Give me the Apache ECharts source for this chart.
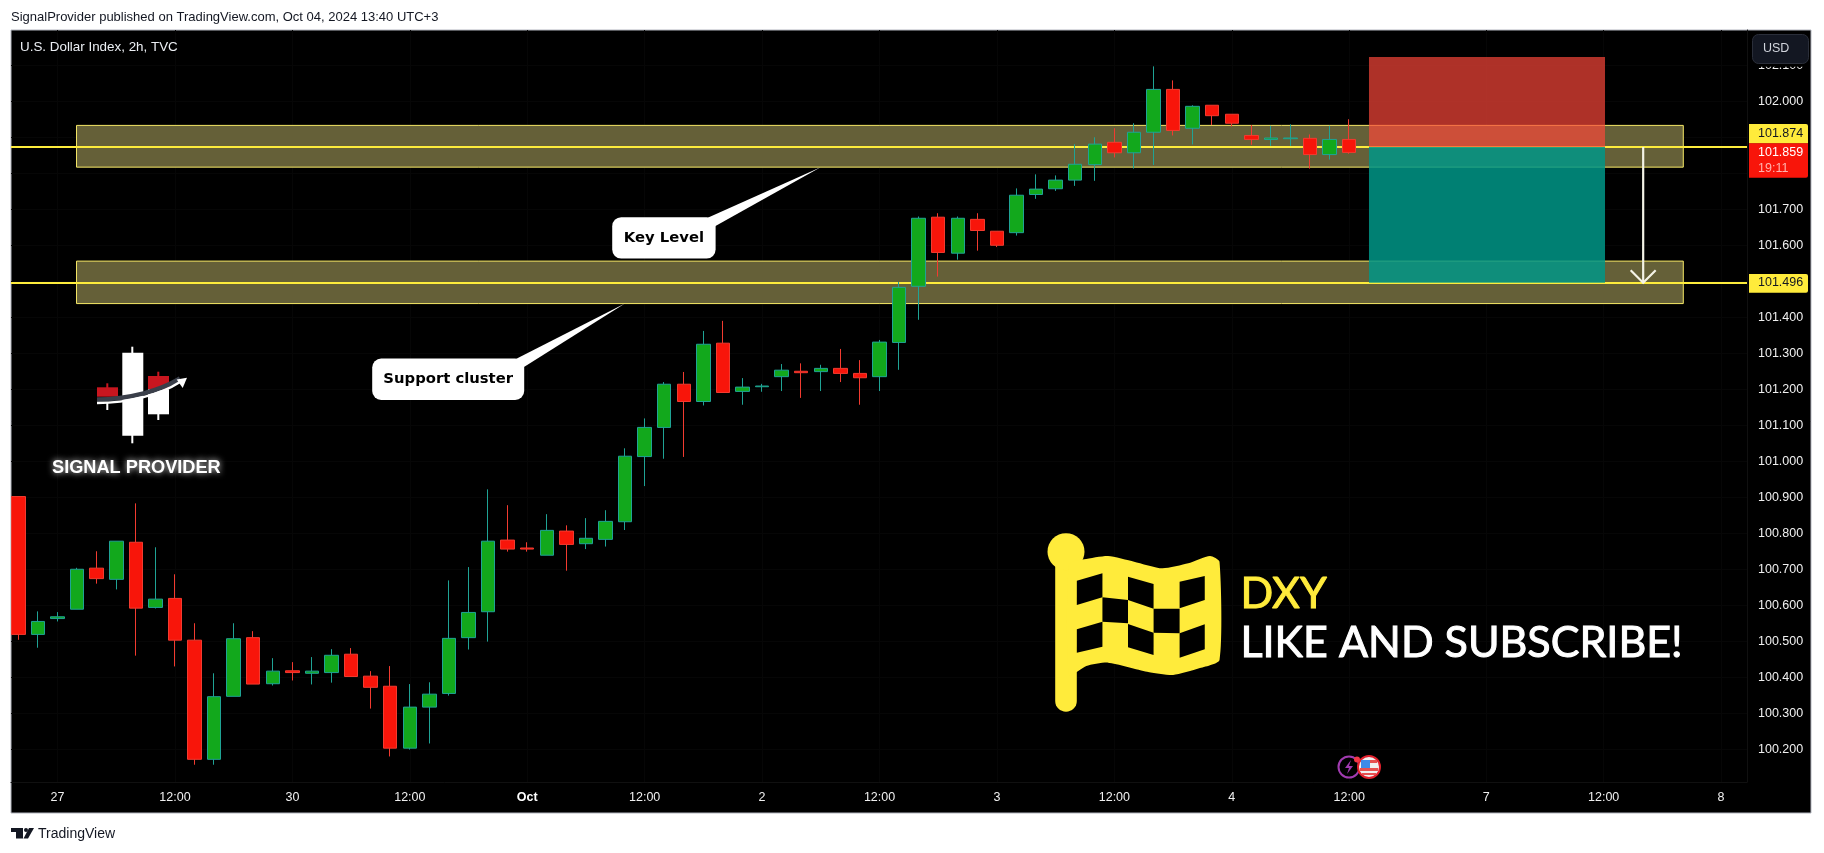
<!DOCTYPE html>
<html>
<head>
<meta charset="utf-8">
<title>DXY 2h</title>
<script src="https://cdn.jsdelivr.net/npm/echarts@6/dist/echarts.min.js"></script>
<style>
  html, body { margin: 0; padding: 0; background: #fff; }
  #chart { width: 1824px; height: 853px; }
</style>
</head>
<body>
<div id="chart"></div>
<script>
// candles, 2h bars, index 0 is the bar cut by the left edge
var opens = [100.903,100.520,100.564,100.590,100.704,100.673,100.776,100.595,100.620,100.504,
  100.173,100.348,100.511,100.383,100.419,100.412,100.414,100.465,100.404,100.376,
  100.204,100.318,100.356,100.511,100.583,100.782,100.760,100.740,100.807,100.772,
  100.784,100.833,101.014,101.095,101.215,101.167,101.329,101.195,101.208,101.236,
  101.251,101.250,101.259,101.245,101.236,101.331,101.487,101.679,101.579,101.673,
  101.640,101.636,101.742,101.758,101.782,101.825,101.887,101.858,101.915,102.034,
  101.926,101.990,101.965,101.906,101.895,101.897,101.898,101.853,101.895];
var closes = [100.520,100.556,100.569,100.701,100.675,100.779,100.593,100.618,100.504,100.173,
  100.347,100.508,100.382,100.418,100.414,100.418,100.462,100.403,100.373,100.204,
  100.318,100.354,100.509,100.581,100.779,100.757,100.757,100.809,100.770,100.787,
  100.834,101.015,101.095,101.215,101.167,101.326,101.192,101.207,101.210,101.254,
  101.247,101.259,101.245,101.233,101.332,101.484,101.676,101.581,101.676,101.642,
  101.601,101.740,101.757,101.782,101.826,101.882,101.858,101.915,102.034,101.920,
  101.987,101.961,101.940,101.895,101.899,101.899,101.853,101.895,101.859];
var lows = [100.505,100.483,100.556,100.590,100.661,100.645,100.461,100.592,100.431,100.158,
  100.158,100.348,100.382,100.378,100.392,100.381,100.386,100.403,100.314,100.181,
  100.200,100.217,100.350,100.478,100.500,100.750,100.750,100.740,100.697,100.757,
  100.764,100.810,100.932,101.008,101.013,101.156,101.192,101.158,101.194,101.196,
  101.177,101.196,101.221,101.158,101.196,101.255,101.394,101.514,101.561,101.586,
  101.596,101.628,101.730,101.752,101.766,101.780,101.845,101.814,101.824,101.906,
  101.881,101.935,101.931,101.880,101.877,101.877,101.814,101.839,101.855];
var highs = [100.903,100.584,100.582,100.705,100.751,100.779,100.884,100.762,100.687,100.551,
  100.412,100.551,100.529,100.454,100.443,100.457,100.479,100.482,100.418,100.432,
  100.382,100.387,100.670,100.707,100.923,100.879,100.776,100.854,100.823,100.843,
  100.865,101.037,101.120,101.221,101.249,101.363,101.391,101.232,101.216,101.271,
  101.273,101.269,101.313,101.282,101.338,101.499,101.681,101.690,101.681,101.690,
  101.640,101.759,101.798,101.795,101.882,101.901,101.926,101.940,102.098,102.059,
  101.990,101.990,101.965,101.935,101.933,101.937,101.909,101.933,101.951];

var priceTicks = [100.2,100.3,100.4,100.5,100.6,100.7,100.8,100.9,101.0,101.1,101.2,101.3,
  101.4,101.5,101.6,101.7,101.8,101.9,102.0,102.1];
var timeTickBars = [2,8,14,20,26,32,38,44,50,56,62,68,75,81,87];
var timeTickLabels = ['27','12:00','30','12:00','Oct','12:00','2','12:00','3','12:00','4','12:00','7','12:00','8'];

// drawings on the chart
var levels = [101.874, 101.496];
var bandTops = [101.934, 101.557];
var bandBottoms = [101.818, 101.439];
var bandStartBar = 2.97;
var bandEndBar = 85.07;
var positionStartBar = 69.01;
var positionEndBar = 81.07;
var stopPrice = 102.124;
var entryPrice = 101.874;
var targetPrice = 101.497;
var arrowBar = 83.02;
var calloutTexts = ['Key Level', 'Support cluster'];
var calloutBars = [40.99, 30.99];
var calloutPrices = [101.818, 101.439];
var lastPrice = '101.859';
var countdown = '19:11';

var X_MIN = -0.378, X_MAX = 88.325;
var Y_MIN = 100.110, Y_MAX = 102.199;

var candleData = opens.map(function (o, i) {
  return [i, o, closes[i], lows[i], highs[i]];
});

// box around the tail tip, px: left, right, top, bottom, tail x on top edge, tail y on right edge
var calloutBoxes = [
  [-208.4, -105, 50, 91.4, -114, 59.4],
  [-252.7, -100.7, 55, 96.3, -110, 64]
];

function renderBand(params, api) {
  var a = api.coord([bandStartBar, api.value(0)]);
  var b = api.coord([bandEndBar, api.value(1)]);
  return {
    type: 'rect',
    shape: { x: a[0], y: a[1], width: b[0] - a[0], height: b[1] - a[1] },
    style: { fill: '#656038', stroke: '#f6e866', lineWidth: 1 }
  };
}

function renderPosition(params, api) {
  var a = api.coord([positionStartBar, api.value(0)]);
  var b = api.coord([positionEndBar, api.value(1)]);
  return {
    type: 'rect',
    shape: { x: a[0], y: a[1], width: b[0] - a[0], height: b[1] - a[1] },
    style: { fill: params.dataIndex === 0 ? 'rgba(252,71,58,0.69)' : 'rgba(0,150,135,0.85)' }
  };
}

function renderArrow(params, api) {
  var a = api.coord([arrowBar, entryPrice]);
  var b = api.coord([arrowBar, targetPrice]);
  var s = { stroke: '#f4f3e6', lineWidth: 2.2, fill: null };
  return {
    type: 'group',
    children: [
      { type: 'line', shape: { x1: a[0], y1: a[1], x2: b[0], y2: b[1] }, style: s },
      { type: 'polyline', shape: { points: [[b[0] - 12.5, b[1] - 12.5], [b[0], b[1]], [b[0] + 12.5, b[1] - 12.5]] }, style: s }
    ]
  };
}

function renderCallout(params, api) {
  var tip = api.coord([api.value(0), api.value(1)]);
  var o = calloutBoxes[params.dataIndex];
  var l = tip[0] + o[0], r = tip[0] + o[1], t = tip[1] + o[2], btm = tip[1] + o[3];
  return {
    type: 'group',
    children: [
      { type: 'polygon', shape: { points: [[tip[0], tip[1]], [tip[0] + o[4], t + 1], [r - 1, tip[1] + o[5]]] }, style: { fill: '#fff' } },
      { type: 'rect', shape: { x: l, y: t, width: r - l, height: btm - t, r: 9 }, style: { fill: '#fff' } },
      { type: 'text', style: { x: (l + r) / 2, y: (t + btm) / 2, text: calloutTexts[params.dataIndex],
        fill: '#000', font: 'bold 14.8px "DejaVu Sans"', align: 'center', verticalAlign: 'middle' } }
    ]
  };
}

// zoomed flag drawing units to page px
function fx(v) { return 1030 + v / 2.306; }
function fy(v) { return 520 + v / 3; }
function flagPts(list) { return list.map(function (p) { return [fx(p[0]), fy(p[1])]; }); }

function txt(text, x, y, font, fill, align, extra) {
  var st = { x: x, y: y, text: text, font: font, fill: fill, align: align || 'left', verticalAlign: 'middle' };
  if (extra) { for (var k in extra) st[k] = extra[k]; }
  return { type: 'text', z: 100, silent: true, style: st };
}
function rect(x, y, w, h, fill, r, z, stroke) {
  return { type: 'rect', z: z === undefined ? 100 : z, silent: true,
    shape: { x: x, y: y, width: w, height: h, r: r || 0 },
    style: { fill: fill, stroke: stroke || null, lineWidth: stroke ? 1 : 0 } };
}
function poly(points, fill, z, smooth) {
  return { type: 'polygon', z: z || 100, silent: true, shape: { points: points, smooth: smooth || 0 }, style: { fill: fill } };
}

var AXIS_FONT = '12.5px "Liberation Sans"';
var graphics = [
  // frame
  rect(11, 30, 1800, 783, '#000', 0, -10, '#b2b5be'),
  txt('SignalProvider published on TradingView.com, Oct 04, 2024 13:40 UTC+3', 11, 17, '13px "Liberation Sans"', '#131722'),
  txt('U.S. Dollar Index, 2h, TVC', 20, 47, '13.4px "Liberation Sans"', '#eceff4'),
  // footer
  poly([[11, 828], [23, 828], [23, 838.5], [16, 838.5], [16, 832], [11, 832]], '#131722'),
  { type: 'circle', z: 100, silent: true, shape: { cx: 26, cy: 830, r: 2 }, style: { fill: '#131722' } },
  poly([[29, 828], [34, 828], [28, 838.5], [23.5, 838.5]], '#131722'),
  txt('TradingView', 38, 834, '14px "Liberation Sans"', '#131722'),
  // price scale
  rect(1749, 31, 61, 35.7, '#000', 0, 99),
  rect(1752.5, 34.5, 56, 29, '#131722', 6, 100, '#2a2e39'),
  txt('USD', 1763, 49, AXIS_FONT, '#d1d4dc'),
  rect(1749, 124, 59, 19.5, '#ffeb3b', [0, 2, 0, 0]),
  txt(levels[0].toFixed(3), 1758, 134, AXIS_FONT, '#131722'),
  rect(1749, 143.3, 59, 34.4, '#f8150a', [0, 0, 2, 0]),
  txt(lastPrice, 1758, 153, AXIS_FONT, '#fff'),
  txt(countdown, 1758, 169, AXIS_FONT, '#ffb3ad'),
  rect(1749, 274, 59, 18.7, '#ffeb3b', [0, 2, 2, 0]),
  txt(levels[1].toFixed(3), 1758, 283, AXIS_FONT, '#131722'),
  // logo
  rect(131.3, 346.7, 2, 96.6, '#fff'),
  rect(122.3, 352.7, 21, 83, '#fff'),
  rect(106.3, 383.3, 2, 5, '#c8161f'),
  rect(157.3, 371.7, 2, 5, '#c8161f'),
  rect(97, 387.3, 21, 9.4, '#c8161f'),
  rect(106.3, 403, 2, 7, '#fff'),
  rect(148, 376, 21, 13.3, '#c8161f'),
  rect(148, 389.3, 21, 25, '#fff'),
  rect(157.3, 414, 2, 6, '#fff'),
  { type: 'bezierCurve', z: 100, silent: true, shape: { x1: 97, y1: 399.5, cpx1: 128, cpy1: 399.5, cpx2: 160, cpy2: 391, x2: 180, y2: 378.5 },
    style: { stroke: '#3a3f4a', lineWidth: 4.5, fill: null } },
  { type: 'bezierCurve', z: 100, silent: true, shape: { x1: 97, y1: 403, cpx1: 128, cpy1: 403, cpx2: 160, cpy2: 395, x2: 180, y2: 382 },
    style: { stroke: '#fff', lineWidth: 2.5, fill: null } },
  poly([[187, 377.7], [176.7, 379.5], [182.7, 388]], '#fff'),
  txt('SIGNAL PROVIDER', 52, 467.5, 'bold 18.2px "Liberation Sans"', '#fff', 'left', { textShadowColor: 'rgba(255,255,255,0.9)', textShadowBlur: 6, shadowColor: 'rgba(255,255,255,0.9)', shadowBlur: 6 }),
  // flag
  rect(1055.2, 551, 21.6, 160.7, '#ffeb3b', 10.8),
  { type: 'circle', z: 100, silent: true, shape: { cx: 1066, cy: 551.7, r: 18.5 }, style: { fill: '#ffeb3b' } },
  poly(flagPts([[90, 132], [125, 118], [180, 108], [240, 125], [305, 145], [365, 130], [415, 108], [437, 125], [437, 420],
    [390, 445], [330, 465], [270, 455], [180, 428], [130, 438], [90, 465]]), '#ffeb3b', 100, 0.2)
];
[
  [[108, 182], [167, 160], [167, 232], [108, 255]],
  [[226, 170], [285, 192], [285, 266], [226, 240]],
  [[345, 185], [403, 168], [403, 240], [345, 265]],
  [[167, 232], [226, 240], [226, 310], [167, 305]],
  [[285, 266], [345, 266], [345, 340], [285, 338]],
  [[108, 328], [167, 305], [167, 380], [108, 398]],
  [[226, 312], [285, 338], [285, 405], [226, 382]],
  [[345, 340], [403, 313], [403, 388], [345, 413]]
].forEach(function (c) { graphics.push(poly(flagPts(c), '#000', 101)); });
graphics.push(
  txt('DXY', 1240.5, 594, '43px "Lato"', '#ffeb3b', 'left', { stroke: '#ffeb3b', lineWidth: 1 }),
  txt('LIKE AND SUBSCRIBE!', 1240.5, 643, '43px "Lato"', '#fff', 'left', { stroke: '#fff', lineWidth: 1 }),
  // event marks
  { type: 'circle', z: 100, silent: true, shape: { cx: 1349, cy: 767, r: 10.5 }, style: { fill: '#000', stroke: '#a13bb0', lineWidth: 2 } },
  poly([[1351, 760], [1345, 768], [1349, 768], [1347, 774], [1353, 766], [1349, 766]], '#a13bb0'),
  { type: 'circle', z: 101, silent: true, shape: { cx: 1369, cy: 767, r: 11 }, style: { fill: '#f0f0f0', stroke: '#e0202c', lineWidth: 2 } },
  rect(1361, 760, 16, 3, '#e65050', 0, 102),
  rect(1360, 768, 18, 3, '#e65050', 0, 102),
  rect(1362, 773, 14, 2, '#e65050', 0, 102),
  rect(1361, 760, 9, 8, '#3d8be8', 0, 103),
  { type: 'circle', z: 104, silent: true, shape: { cx: 1357, cy: 759.5, r: 3 }, style: { fill: '#f23645' } }
);

var chart = echarts.init(document.getElementById('chart'));
chart.setOption({
  animation: false,
  backgroundColor: '#fff',
  grid: { left: 11, right: 77, top: 30, bottom: 71, containLabel: false },
  xAxis: {
    type: 'value', min: X_MIN, max: X_MAX, scale: true,
    axisLine: { show: true, lineStyle: { color: '#101010' } },
    axisTick: { show: false, customValues: timeTickBars },
    splitLine: { show: true, lineStyle: { color: '#060606' } },
    axisLabel: {
      customValues: timeTickBars, margin: 9, color: '#f0f0f0', fontFamily: 'Liberation Sans', fontSize: 12.5,
      formatter: function (v) {
        var s = timeTickLabels[timeTickBars.indexOf(v)];
        return s === 'Oct' ? '{b|Oct}' : s;
      },
      rich: { b: { fontWeight: 'bold', color: '#fff', fontFamily: 'Liberation Sans', fontSize: 12.5 } }
    }
  },
  yAxis: {
    type: 'value', position: 'right', min: Y_MIN, max: Y_MAX, scale: true,
    axisLine: { show: true, onZero: false, lineStyle: { color: '#101010' } },
    axisTick: { show: false, customValues: priceTicks },
    splitLine: { show: true, lineStyle: { color: '#060606' } },
    axisLabel: {
      customValues: priceTicks, margin: 11, color: '#f0f0f0', fontFamily: 'Liberation Sans', fontSize: 12.5,
      formatter: function (v) { return v.toFixed(3); }
    }
  },
  graphic: { elements: graphics },
  series: [
    { type: 'custom', z: 1, silent: true, clip: true, renderItem: renderBand,
      data: bandTops.map(function (t, i) { return [t, bandBottoms[i]]; }),
      encode: { y: [0, 1] } },
    { type: 'line', z: 1, silent: true, symbol: 'none', lineStyle: { color: '#fdec3c', width: 2 },
      data: [[X_MIN, levels[0]], [X_MAX, levels[0]]] },
    { type: 'line', z: 1, silent: true, symbol: 'none', lineStyle: { color: '#fdec3c', width: 2 },
      data: [[X_MIN, levels[1]], [X_MAX, levels[1]]] },
    { type: 'candlestick', z: 2, silent: true, barWidth: 14,
      data: candleData,
      encode: { x: 0, y: [1, 2, 3, 4] },
      itemStyle: { color: '#12a81c', color0: '#f8150a', borderColor: '#1fa395', borderColor0: '#f23b30', borderWidth: 1 } },
    { type: 'custom', z: 3, silent: true, renderItem: renderPosition,
      data: [[stopPrice, entryPrice], [entryPrice, targetPrice]], encode: { y: [0, 1] } },
    { type: 'custom', z: 3, silent: true, renderItem: renderArrow, data: [[entryPrice, targetPrice]], encode: { y: [0, 1] } },
    { type: 'custom', z: 4, silent: true, clip: false, renderItem: renderCallout,
      data: calloutBars.map(function (b, i) { return [b, calloutPrices[i]]; }), encode: { x: 0, y: 1 } }
  ]
});
</script>
</body>
</html>
